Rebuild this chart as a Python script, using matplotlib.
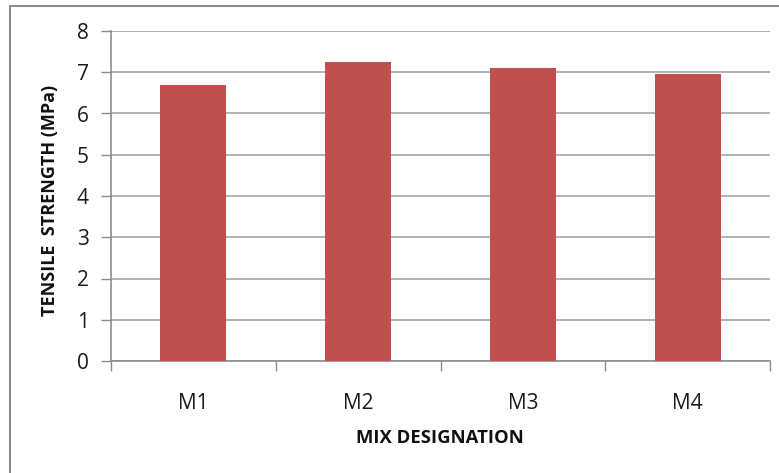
import matplotlib.pyplot as plt
from matplotlib.patches import Rectangle
from matplotlib.ticker import FixedLocator, NullFormatter

# Tensile strength per mix
mixes = ['M1', 'M2', 'M3', 'M4']
strength = [6.68, 7.24, 7.11, 6.96]
y_ticks = [0, 1, 2, 3, 4, 5, 6, 7, 8]

plt.rcParams['font.family'] = ['Open Sans', 'DejaVu Sans']

W, H = 779, 473
fig = plt.figure(figsize=(W / 100, H / 100), dpi=100)

# outer chart frame (only left and top edges fall inside the picture)
fig.patches.append(Rectangle((10 / W, -0.05), 1.2, (H - 6) / H + 0.05,
                             transform=fig.transFigure, fill=False,
                             edgecolor='#8c8c8c', linewidth=1.5))

ax = fig.add_axes([111 / W, (H - 361) / H, 659 / W, 330 / H])
x = range(len(mixes))
ax.bar(x, strength, width=0.4, color='#c0504d', zorder=3)

ax.set_xlim(-0.5, len(mixes) - 0.5)
ax.set_ylim(0, 8)
ax.set_yticks(y_ticks)
ax.yaxis.grid(True, color='#a6a6a6', linewidth=1.2)
ax.set_axisbelow(True)

# category labels in the middle, tick marks on the boundaries
ax.xaxis.set_major_locator(FixedLocator([i - 0.5 for i in range(len(mixes) + 1)]))
ax.xaxis.set_major_formatter(NullFormatter())
ax.xaxis.set_minor_locator(FixedLocator(list(x)))
ax.set_xticklabels(mixes, minor=True)
ax.tick_params(axis='x', which='major', length=7, color='#8c8c8c', width=1)
ax.tick_params(axis='x', which='minor', length=0, pad=23, labelsize=15, labelcolor='#1a1a1a')
ax.tick_params(axis='y', length=7, color='#8c8c8c', width=1, pad=9,
               labelsize=15, labelcolor='#1a1a1a')

for side in ['top', 'right']:
    ax.spines[side].set_visible(False)
for side in ['left', 'bottom']:
    ax.spines[side].set_color('#8c8c8c')
    ax.spines[side].set_linewidth(1.2)

fig.text(440 / W, 1 - 438 / H, 'MIX DESIGNATION', ha='center', va='center',
         fontsize=13.3, fontweight='bold', color='#111111')
fig.text(50 / W, 1 - 200 / H, 'TENSILE  STRENGTH (MPa)', ha='center', va='center',
         rotation=90, fontsize=13, fontweight='bold', color='#111111')

fig.savefig('out.png', dpi=100, facecolor='white')
